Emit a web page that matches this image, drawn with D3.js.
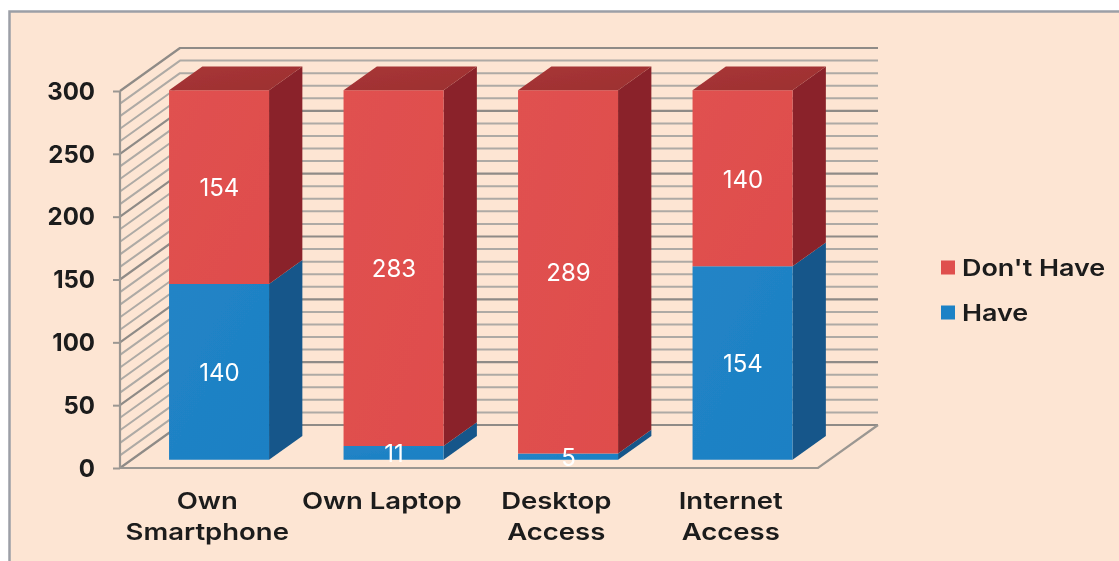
<!DOCTYPE html>
<html><head><meta charset="utf-8">
<script src="https://cdn.jsdelivr.net/npm/d3@7/dist/d3.min.js"></script>
<style>
html,body{margin:0;padding:0;background:#fff;overflow:hidden}
svg{display:block}
text{font-family:Inter,"Open Sans",sans-serif}
</style></head><body>
<svg id="c" width="1119" height="561"></svg>
<script>
const categories = ["Own Smartphone","Own Laptop","Desktop Access","Internet Access"];
const categoryLines = [["Own","Smartphone"],["Own Laptop"],["Desktop","Access"],["Internet","Access"]];
const have = [140,11,5,154];
const dontHave = [154,283,289,140];
const yTicks = [0,50,100,150,200,250,300];
const gridValues = d3.range(0,301,10);
const seriesNames = ["Don't Have","Have"];

const svg = d3.select("#c");
const W=1119,H=561;
const defs = svg.append("defs");
const blur = defs.append("filter").attr("id","soft").attr("x","-5%").attr("y","-5%").attr("width","110%").attr("height","110%");
blur.append("feGaussianBlur").attr("stdDeviation",0.6);
function grad(id,a,b){const g=defs.append("linearGradient").attr("id",id).attr("x1",0).attr("x2",1).attr("y1",0).attr("y2",1);
 g.append("stop").attr("offset","0%").attr("stop-color",a);g.append("stop").attr("offset","100%").attr("stop-color",b);}
grad("redF","#e05150","#df4d4c");grad("bluF","#2284c6","#1c80c4");grad("redT","#a83636","#9c2f31");

svg.append("rect").attr("x",0).attr("y",0).attr("width",W).attr("height",H).attr("fill","#fff");
const root = svg.append("g").attr("filter","url(#soft)");
root.append("rect").attr("x",9.5).attr("y",11.5).attr("width",W+20).attr("height",H+20)
 .attr("fill","#fde5d3").attr("stroke","#9c9fa6").attr("stroke-width",2.5);

// plot geometry
const x0=120,x1=818,yBase=468,yTop=91,depthX=60,depthY=43;
const x=d3.scaleBand().domain(categories).range([x0,x1]);
const y=d3.scaleLinear().domain([0,300]).range([yBase,yTop]);
const proj=(cx,v,t)=>[cx+depthX*t,y(v)-depthY*t];
const line=d3.line();
const gridCol=v=>v%50===0?"#8f8b87":"#aeaaa5";
const gridW=v=>v%50===0?2.2:2;

// back wall grid and left wall
const grid=root.append("g").attr("fill","none");
gridValues.forEach(v=>{
 grid.append("path").attr("d",line([proj(x0,v,0),proj(x0,v,1),proj(x1,v,1)])).attr("stroke",gridCol(v)).attr("stroke-width",gridW(v)).attr("stroke-linejoin","round");
});
// floor
grid.append("path").attr("d",line([proj(x0,0,0),proj(x1,0,0),proj(x1,0,1)])).attr("stroke","#9b9792").attr("stroke-width",2.2);

// bars
const t0=0.19,t1=0.745,barW=100;
const colours={r:{f:"url(#redF)",t:"url(#redT)",s:"#8a2429"},b:{f:"url(#bluF)",t:"#135686",s:"#13568a"}};
const bars=root.append("g");
categories.forEach((c,i)=>{
 const cx=x(c)+x.bandwidth()/2-barW/2+0.4;
 const seg=(a,b,col)=>{
  const fl=proj(cx,a,t0),fr=proj(cx+barW,a,t0),tl=proj(cx,b,t0),tr=proj(cx+barW,b,t0);
  const br=proj(cx+barW,a,t1),trb=proj(cx+barW,b,t1),tlb=proj(cx,b,t1);
  bars.append("path").attr("d",line([fr,br,trb,tr])+"Z").attr("fill",col.s);
  bars.append("path").attr("d",line([fl,fr,tr,tl])+"Z").attr("fill",col.f);
  return [tl,tr,trb,tlb];
 };
 seg(0,have[i],colours.b);
 const top=seg(have[i],have[i]+dontHave[i],colours.r);
 bars.append("path").attr("d",line(top)+"Z").attr("fill",colours.r.t);
});

// data labels
const labels=root.append("g").attr("fill","#fff").attr("font-size",24).attr("text-anchor","middle").style("font-family","'Open Sans'");
categories.forEach((c,i)=>{
 const cx=x(c)+x.bandwidth()/2+0.8;
 const at=(a,b,v)=>{const p=proj(cx,(a+b)/2,t0);
  labels.append("text").attr("x",p[0]).attr("y",p[1]+0.6).attr("dy","0.36em").text(v);};
 at(0,have[i],have[i]);
 at(have[i],have[i]+dontHave[i],dontHave[i]);
});

// y axis
const ay=root.append("g").attr("transform",`translate(${x0},0)`).call(d3.axisLeft(y).tickValues(yTicks).tickSize(7).tickPadding(18));
ay.select(".domain").attr("stroke","#9b9792").attr("stroke-width",2.2).attr("d",`M0,${yBase}V${yTop}`);
ay.selectAll(".tick line").attr("stroke","#9b9792").attr("stroke-width",2);
ay.selectAll("text").attr("fill","#1a1a1a").attr("font-size",24).attr("font-weight",700).style("font-family","Inter").attr("dy","0.34em");

// x axis labels
const wide=1.17;
const ax=root.append("g").attr("transform",`translate(0,${yBase})`).call(d3.axisBottom(x).tickSize(0).tickFormat(""));
ax.select(".domain").remove();
ax.selectAll(".tick").each(function(d,i){
 const t=d3.select(this).select("text").attr("fill","#1a1a1a").attr("font-size",23.5).attr("font-weight",600).attr("text-anchor","middle").attr("y",0).attr("dy",null).attr("transform",`scale(${wide},1)`).style("font-family","Inter");
 categoryLines[i].forEach((l,j)=>t.append("tspan").attr("x",0).attr("y",41+31*j).text(l));
});

// legend
const legendColors=["#df4f4e","#1f82c6"];
const lg=root.append("g");
seriesNames.forEach((n,i)=>{
 const gy=267.5+45*i;
 lg.append("rect").attr("x",941).attr("y",gy-7).attr("width",14).attr("height",14).attr("fill",legendColors[i]);
 lg.append("text").attr("transform",`translate(962,${gy}) scale(${wide},1)`).attr("dy","0.35em").attr("fill","#1a1a1a").attr("font-size",23).attr("font-weight",600).text(n);
});
</script></body></html>
